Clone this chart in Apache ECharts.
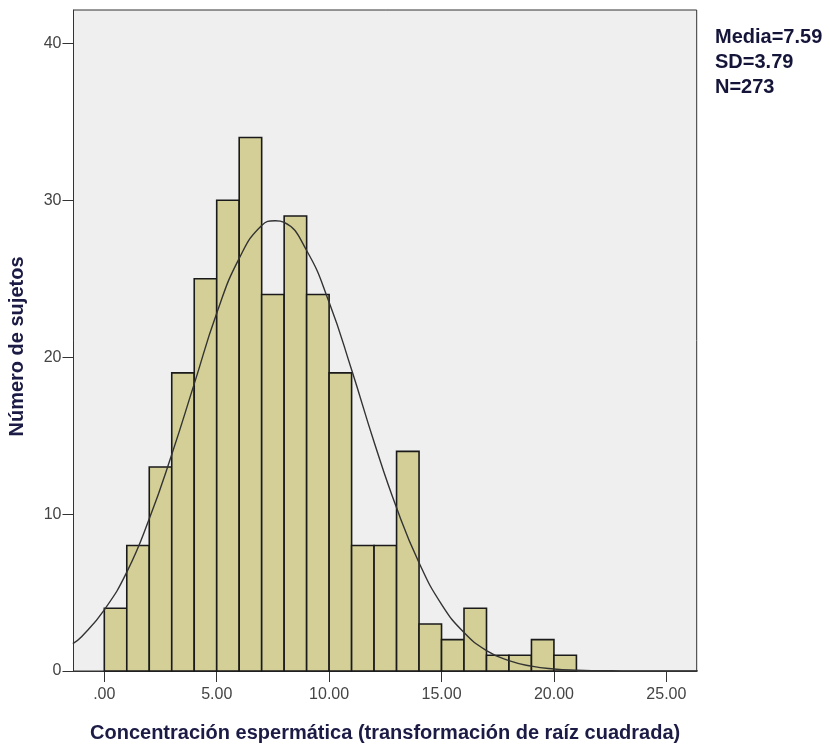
<!DOCTYPE html>
<html>
<head>
<meta charset="utf-8">
<script src="https://cdn.jsdelivr.net/npm/echarts@6/dist/echarts.min.js"></script>
<style>
  html, body { margin: 0; padding: 0; background: #fff; }
  #chart { width: 830px; height: 745px; }
</style>
</head>
<body>
<div id="chart"></div>
<script>
// histogram bins: [start, end) on the sqrt-transformed scale
const binStarts = [0, 1, 2, 3, 4, 5, 6, 7, 8, 9, 10, 11, 12, 13, 14, 15, 16, 17, 18, 19, 20];
const binCounts = [4, 8, 13, 19, 25, 30, 34, 24, 29, 24, 19, 8, 8, 14, 3, 2, 4, 1, 1, 2, 1];

// fitted normal curve
const curveX = [-1.4, -1, 0, 1, 2, 3, 4, 5, 6, 7, 7.6, 8, 9, 10, 11, 12, 13, 14, 15, 16, 17, 18, 19, 20, 21, 22, 23, 24, 25, 26.4];
const curveY = [1.75, 2.2, 3.9, 6.3, 9.7, 13.8, 18.3, 22.8, 26.3, 28.4, 28.7, 28.6, 26.8, 23.5, 19.2, 14.6, 10.4, 6.9, 4.25, 2.45, 1.3, 0.66, 0.31, 0.13, 0.05, 0.02, 0.01, 0, 0, 0];

const xTicks = [0, 5, 10, 15, 20, 25];
const yTicks = [0, 10, 20, 30, 40];
const statLines = ["Media=7.59", "SD=3.79", "N=273"];

const titleColor = "#1b1b45";
const labelColor = "#444";
const font = "Liberation Sans";

const chart = echarts.init(document.getElementById("chart"));

const barData = binStarts.map((s, i) => [s, s + 1, binCounts[i]]);
const lineData = curveX.map((x, i) => [x, curveY[i]]);

chart.setOption({
  animation: false,
  backgroundColor: "#fff",
  grid: {
    left: 73.5, right: 133.3, top: 10, bottom: 74,
    outerBoundsMode: "none",
    containLabel: false,
    show: true,
    backgroundColor: "#efefef",
    borderColor: "#333",
    borderWidth: 1,
  },
  xAxis: {
    type: "value",
    min: -1.37,
    max: 26.35,
    name: "Concentración espermática (transformación de raíz cuadrada)",
    nameLocation: "middle",
    nameGap: 52,
    nameTextStyle: { color: titleColor, fontSize: 20, fontWeight: "bold", fontFamily: font },
    axisLine: { show: true, onZero: false, lineStyle: { color: "#333", width: 1 } },
    axisTick: { show: true, length: 11, customValues: xTicks, lineStyle: { color: "#333" } },
    axisLabel: {
      customValues: xTicks,
      color: labelColor,
      fontSize: 16,
      fontFamily: font,
      margin: 16,
      formatter: (v) => (v === 0 ? ".00" : v.toFixed(2)),
    },
    splitLine: { show: false },
  },
  yAxis: {
    type: "value",
    min: 0,
    max: 42.13,
    name: "Número de sujetos",
    nameLocation: "middle",
    nameGap: 46,
    nameTextStyle: {
      color: titleColor, fontSize: 20, fontWeight: "bold", fontFamily: font,
      padding: [0, 12, 0, 0],
    },
    axisLine: { show: true, onZero: false, lineStyle: { color: "#333", width: 1 } },
    axisTick: { show: true, length: 11, customValues: yTicks, lineStyle: { color: "#333" } },
    axisLabel: {
      customValues: yTicks,
      color: labelColor,
      fontSize: 16,
      fontFamily: font,
      margin: 12,
    },
    splitLine: { show: false },
  },
  graphic: statLines.map((t, i) => ({
    type: "text",
    left: 715,
    top: 27 + i * 25,
    style: {
      text: t,
      fill: "#15153a",
      font: "bold 20px 'Liberation Sans', Arial, sans-serif",
    },
  })),
  series: [
    {
      type: "custom",
      data: barData,
      encode: { x: [0, 1], y: 2 },
      renderItem: (params, api) => {
        const p0 = api.coord([api.value(0), api.value(2)]);
        const p1 = api.coord([api.value(1), 0]);
        return {
          type: "rect",
          shape: { x: p0[0], y: p0[1], width: p1[0] - p0[0], height: p1[1] - p0[1] },
          style: { fill: "#d3cf96", stroke: "#1a1a1a", lineWidth: 1.6 },
        };
      },
      z: 2,
    },
    {
      type: "line",
      data: lineData,
      smooth: true,
      showSymbol: false,
      clip: true,
      lineStyle: { color: "#333", width: 1.4 },
      z: 3,
    },
  ],
});
</script>
</body>
</html>
